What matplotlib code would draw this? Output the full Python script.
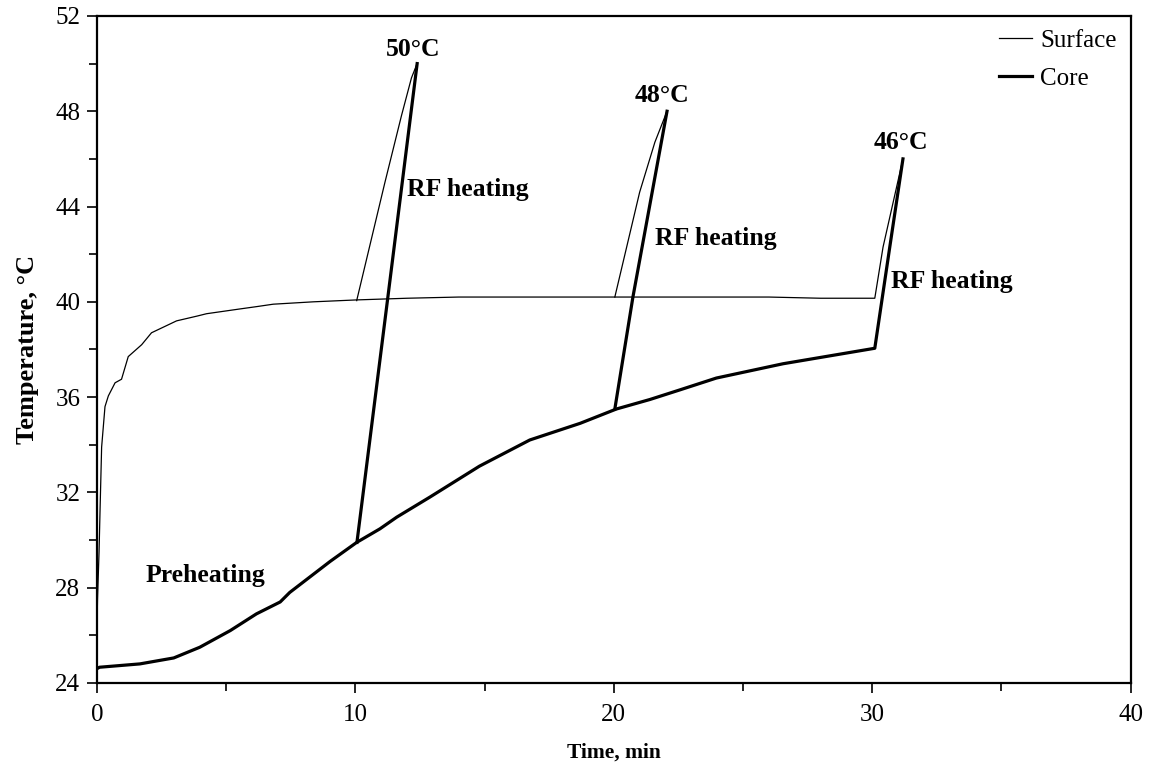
import numpy as np
import matplotlib
matplotlib.use("Agg")
import matplotlib.pyplot as plt
from matplotlib.ticker import MultipleLocator

plt.rcParams["font.family"] = ["Liberation Serif", "DejaVu Serif"]

# preheating + final RF run (surface)
surf_t = [0.0, 0.02, 0.08, 0.12, 0.18, 0.31, 0.44, 0.7, 0.95, 1.21, 1.73, 2.11,
          3.08, 3.87, 4.24, 5.53, 6.19, 6.82, 8.38, 10.06, 12, 14, 16, 18, 20,
          22, 24, 26, 28, 30.1, 30.42, 31.19]
surf_T = [26.2, 27.5, 29.5, 31.3, 33.9, 35.6, 36.05, 36.6, 36.75, 37.7, 38.2, 38.7,
          39.2, 39.4, 39.5, 39.7, 39.8, 39.9, 40.0, 40.08, 40.15, 40.2, 40.2, 40.2, 40.2,
          40.2, 40.2, 40.2, 40.15, 40.15, 42.3, 46.0]

# preheating + final RF run (core)
core_t = [0.0, 0.1, 1.66, 2.97, 3.98, 5.16, 6.17, 7.09, 7.46, 9.02, 10.05, 10.95,
          11.6, 12.88, 14.8, 16.75, 18.7, 20.1, 21.4, 22.55, 23.97, 26.55, 30.1,
          30.68, 31.19]
core_T = [24.6, 24.66, 24.8, 25.05, 25.5, 26.2, 26.9, 27.4, 27.8, 29.1, 29.9, 30.47,
          30.96, 31.8, 33.1, 34.2, 34.9, 35.5, 35.9, 36.3, 36.8, 37.4, 38.05,
          42.3, 46.0]

# RF heating branches started at 10 and 20 min
rf10_surf_t = [10.05, 11.14, 11.78, 12.17, 12.39]
rf10_surf_T = [40.05, 45.0, 47.8, 49.4, 50.0]
rf10_core_t = [10.06, 11.24, 12.39]
rf10_core_T = [29.9, 40.05, 50.0]

rf20_surf_t = [20.04, 21.0, 21.59, 22.06]
rf20_surf_T = [40.2, 44.6, 46.7, 48.0]
rf20_core_t = [20.04, 20.74, 22.06]
rf20_core_T = [35.5, 40.2, 48.0]

fig = plt.figure(figsize=(11.49, 7.63), dpi=100)
# frame: x 97..1131 px, y 16..683 px
ax = fig.add_axes([0.0844, 0.1049, 0.8996, 0.8742])

thin = 0.9
thick = 2.3
ax.plot(surf_t, surf_T, color="black", linewidth=thin, label="Surface")
ax.plot(core_t, core_T, color="black", linewidth=thick, label="Core")
ax.plot(rf10_surf_t, rf10_surf_T, color="black", linewidth=thin)
ax.plot(rf10_core_t, rf10_core_T, color="black", linewidth=thick)
ax.plot(rf20_surf_t, rf20_surf_T, color="black", linewidth=thin)
ax.plot(rf20_core_t, rf20_core_T, color="black", linewidth=thick)

# annotations
bold = dict(fontsize=18.5, fontweight="bold", color="black")
ax.text(12.22, 50.6, "50°C", ha="center", va="center", **bold)
ax.text(21.85, 48.68, "48°C", ha="center", va="center", **bold)
ax.text(31.1, 46.7, "46°C", ha="center", va="center", **bold)
ax.text(12.0, 44.7, "RF heating", ha="left", va="center", **bold)
ax.text(21.59, 42.67, "RF heating", ha="left", va="center", **bold)
ax.text(30.74, 40.85, "RF heating", ha="left", va="center", **bold)
ax.text(4.2, 28.5, "Preheating", ha="center", va="center", **bold)

ax.set_xlim(0, 40)
ax.set_ylim(24, 52)
ax.xaxis.set_major_locator(MultipleLocator(10))
ax.xaxis.set_minor_locator(MultipleLocator(5))
ax.yaxis.set_major_locator(MultipleLocator(4))
ax.yaxis.set_minor_locator(MultipleLocator(2))
ax.tick_params(which="both", direction="out", top=False, right=False,
               width=1.2, labelsize=18)
ax.tick_params(axis="x", which="major", length=7, pad=8)
ax.tick_params(axis="y", which="major", length=7, pad=5)
ax.tick_params(which="minor", length=6)
for sp in ax.spines.values():
    sp.set_linewidth(1.6)

ax.set_xlabel("Time, min", fontsize=15.5, fontweight="bold", labelpad=12)
ax.set_ylabel("Temperature, °C", fontsize=19, fontweight="bold", labelpad=12)

ax.legend(loc="upper right", frameon=False, fontsize=18, handlelength=1.32,
          handletextpad=0.35, borderaxespad=0.15, labelspacing=0.6)

fig.savefig("out.png", dpi=100)
